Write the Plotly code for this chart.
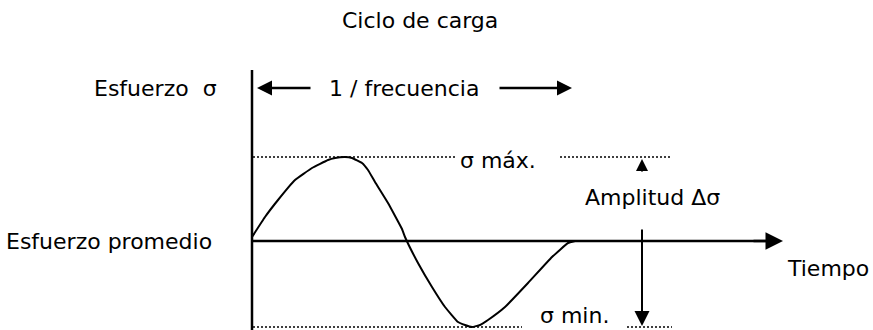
import plotly.graph_objects as go

# load cycle (time in arbitrary units, stress relative to the mean)
time = [0, 13, 26, 43, 60, 76, 83, 93, 100, 110, 116, 123, 136, 150, 153,
        166, 180, 193, 206, 213, 220, 228, 236, 253, 276, 300, 316, 323]
stress = [4, 24, 41, 61, 73, 81, 83, 84, 83, 78, 71, 59, 38, 12, 4,
          -22, -46, -66, -81, -84, -86, -84, -79, -66, -42, -16, -2, 0]
sigma_max = 84
sigma_min = -86
period = 323

FONT = dict(family="DejaVu Sans", size=22, color="black")

fig = go.Figure()
fig.add_trace(go.Scatter(
    x=time, y=stress, mode="lines",
    line=dict(color="black", width=2, shape="spline", smoothing=0.3),
    hoverinfo="skip", showlegend=False
))

shapes = [
    # stress axis
    dict(type="line", x0=0, x1=0, y0=-95, y1=171, line=dict(color="black", width=2.5)),
    # mean stress / time axis
    dict(type="line", x0=0, x1=515, y0=0, y1=0, line=dict(color="black", width=2.5)),
    # sigma max dotted lines
    dict(type="line", x0=1, x1=203, y0=sigma_max, y1=sigma_max,
         line=dict(color="black", width=1.5, dash="2px,2px")),
    dict(type="line", x0=308, x1=420, y0=sigma_max, y1=sigma_max,
         line=dict(color="black", width=1.5, dash="2px,2px")),
    # sigma min dotted lines
    dict(type="line", x0=1, x1=270, y0=sigma_min, y1=sigma_min,
         line=dict(color="black", width=1.5, dash="2px,2px")),
    dict(type="line", x0=375, x1=420, y0=sigma_min, y1=sigma_min,
         line=dict(color="black", width=1.5, dash="2px,2px")),
]

def arrow(x, y, ax, ay, width=2.5, size=1.0):
    return dict(x=x, y=y, ax=ax, ay=ay, xref="x", yref="y", axref="x", ayref="y",
                text="", showarrow=True, arrowhead=2, arrowsize=size,
                arrowwidth=width, arrowcolor="black", standoff=0, startstandoff=0)

annotations = [
    arrow(531, 0, 500, 0, size=1.4),                 # time axis arrow
    arrow(5, 153, 60, 153, size=1.2),                # period arrow, left
    arrow(period - 3, 153, 246, 153, size=1.2),      # period arrow, right
    arrow(390, sigma_min + 1, 390, 13, width=2, size=1.5),  # amplitude arrow down
    arrow(390, sigma_max - 2, 390, 68, width=2, size=1.2),  # amplitude arrow up
]

def label(text, x, y, xanchor="center", yanchor="middle"):
    return dict(x=x, y=y, xref="x", yref="y", text=text, showarrow=False,
                xanchor=xanchor, yanchor=yanchor, font=FONT)

annotations += [
    label("Ciclo de carga", 168, 221),
    label("Esfuerzo  σ", -33, 153, xanchor="right"),
    label("Esfuerzo promedio", -248, 0, xanchor="left"),
    label("1 / frecuencia", 152, 153),
    label("σ máx.", 246, 81),
    label("Amplitud Δσ", 400, 44),
    label("Tiempo", 576, -27),
    label("σ min.", 322, -89, yanchor="bottom"),
]

fig.update_layout(
    width=873, height=330,
    margin=dict(l=0, r=0, t=0, b=0),
    paper_bgcolor="white", plot_bgcolor="white",
    xaxis=dict(range=[-252, 621], visible=False, fixedrange=True),
    yaxis=dict(range=[-89, 241], visible=False, fixedrange=True),
    shapes=shapes, annotations=annotations,
    showlegend=False
)

# drop the browser's default body margin so the figure sits at the page corner
fig.write_html("out.html", config={"displayModeBar": False},
               post_script="document.body.style.margin = '0';")
